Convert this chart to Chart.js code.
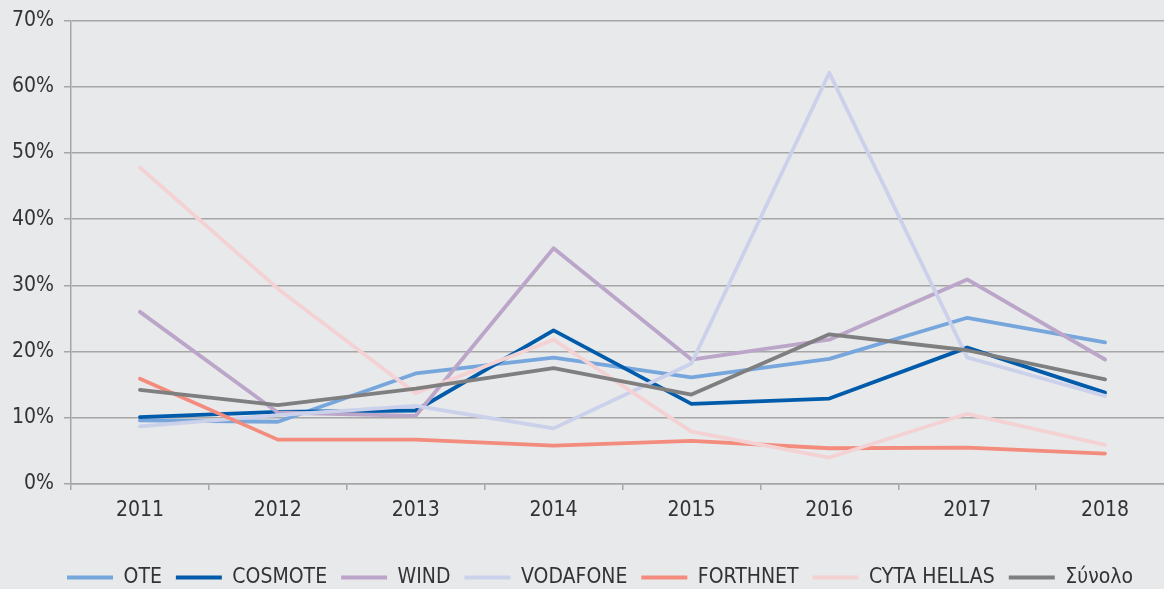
<!DOCTYPE html>
<html><head><meta charset="utf-8">
<script src="https://cdn.jsdelivr.net/npm/chart.js@4/dist/chart.umd.min.js"></script>
<style>
html,body{margin:0;padding:0;background:#e8e9eb;overflow:hidden;width:1164px;height:589px}
#wrap{width:1184px;height:598px;position:relative}
</style></head>
<body><div id="wrap"><canvas id="c"></canvas></div>
<script>
const years = ['2011','2012','2013','2014','2015','2016','2017','2018'];
const yTicks = [0,10,20,30,40,50,60,70];
const ote      = [9.6, 9.4, 16.7, 19.1, 16.1, 18.9, 25.1, 21.4];
const cosmote  = [10.1, 10.9, 11.1, 23.2, 12.1, 12.9, 20.6, 13.8];
const wind     = [26.0, 10.8, 10.3, 35.6, 18.8, 21.8, 30.9, 18.8];
const vodafone = [8.7, 10.4, 11.8, 8.4, 18.2, 62.1, 19.1, 13.3];
const forthnet = [15.9, 6.7, 6.7, 5.8, 6.5, 5.4, 5.5, 4.6];
const cyta     = [47.8, 29.5, 13.7, 21.8, 7.9, 4.0, 10.6, 5.9];
const total    = [14.2, 11.9, 14.4, 17.5, 13.5, 22.6, 20.2, 15.8];

const names  = ['OTE','COSMOTE','WIND','VODAFONE','FORTHNET','CYTA HELLAS','Σύνολο'];
const series = [ote, cosmote, wind, vodafone, forthnet, cyta, total];
const colors = ['#77a6dc','#005cab','#bba6c9','#cbd1ea','#f38c7c','#f4d2d4','#7f7f80'];

const datasets = series.map((d,i)=>({
  label: names[i], data: d,
  borderColor: colors[i], backgroundColor: colors[i],
  borderWidth: 3.8, pointRadius: 0, tension: 0,
  borderCapStyle: 'round', borderJoinStyle: 'round',
  order: series.length - i
}));

const shiftLegend = {
  id: 'shiftLegend',
  afterLayout(chart) {
    if (chart.legend) { chart.legend.left += 13; chart.legend.right += 13; }
  }
};

const FONT = 'DejaVu Sans Condensed';
new Chart(document.getElementById('c'), {
  type: 'line',
  data: { labels: years, datasets },
  plugins: [shiftLegend],
  options: {
    responsive: true, maintainAspectRatio: false, animation: false,
    layout: { padding: { top: 20, right: 10, left: 0, bottom: 0 } },
    plugins: {
      tooltip: { enabled: false },
      legend: {
        position: 'bottom',
        labels: {
          font: { family: FONT, size: 21 }, color: '#333',
          boxWidth: 46, boxHeight: 4, padding: 14,
          sort: (a,b)=>a.datasetIndex-b.datasetIndex,
          generateLabels: (chart)=>{
            const items = Chart.defaults.plugins.legend.labels.generateLabels(chart);
            items.forEach(it=>{ it.lineWidth = 0; it.strokeStyle = 'rgba(0,0,0,0)'; });
            return items;
          }
        }
      }
    },
    scales: {
      x: {
        offset: true,
        grid: { offset: true, drawOnChartArea: false, drawTicks: true, tickLength: 6, color: '#a6a6a6', lineWidth: 1.5 },
        border: { display: true, color: '#a6a6a6', width: 1.5 },
        ticks: { font: { family: FONT, size: 21 }, color: '#333', padding: 8, maxRotation: 0 },
        afterFit: s => { s.height = 69; }
      },
      y: {
        min: 0, max: 70,
        afterBuildTicks: s => { s.ticks = yTicks.map(v=>({value:v})); },
        grid: { color: '#a6a6a6', lineWidth: 1.5, tickLength: 7 },
        border: { display: true, color: '#a6a6a6', width: 1.5 },
        ticks: { font: { family: FONT, size: 21, lineHeight: 1 }, color: '#333', padding: 10, callback: v => v + '%' },
        afterFit: s => { s.width = 71; }
      }
    }
  }
});
</script>
</body></html>
